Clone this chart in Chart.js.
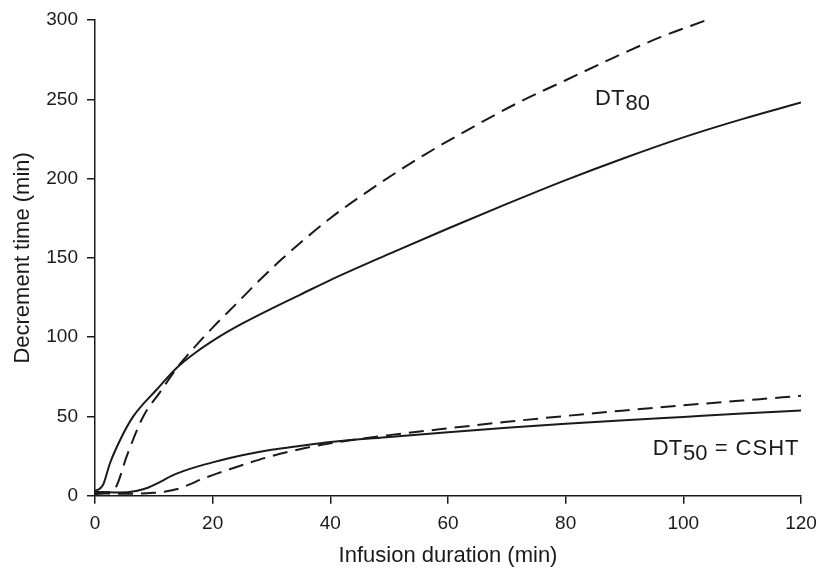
<!DOCTYPE html>
<html>
<head>
<meta charset="utf-8">
<script src="https://cdn.jsdelivr.net/npm/chart.js@4/dist/chart.umd.min.js"></script>
<style>
  body { margin: 0; background: #fff; }
  #wrap { width: 818px; height: 569px; }
</style>
</head>
<body>
<div id="wrap"><canvas id="chart" width="818" height="569"></canvas></div>
<script>
// values
const dt80SolidX = [0, 1, 1.5, 2.5, 4.25, 6.5, 10.5, 14, 17, 21, 25, 30, 35, 40, 50, 60, 70, 80, 90, 100, 110, 120];
const dt80SolidY = [3, 5, 8, 20, 35, 50, 67, 81, 90, 100, 108.5, 118, 127, 136, 152.5, 168.5, 184, 199, 213, 226, 237.5, 248];

const dt80DashX = [0, 2, 3.5, 5.4, 8.2, 11, 14, 17, 20, 24, 28, 32, 40, 48, 56, 64, 72, 80, 88, 96, 104];
const dt80DashY = [1, 2, 5, 25, 50, 65, 81, 94, 106, 121, 136, 150, 175, 196, 215, 232, 248, 262, 276, 289, 300];

const dt50SolidX = [0, 4, 7, 9, 11, 13, 15, 17.5, 20, 25, 30, 35, 40, 50, 60, 70, 80, 90, 100, 110, 120];
const dt50SolidY = [2.5, 2, 3, 5, 8.5, 12.5, 15.5, 18.5, 21, 25.5, 29, 31.5, 33.8, 37, 40, 42.8, 45.3, 47.6, 49.7, 51.8, 53.8];

const dt50DashX = [0, 6, 10, 12, 14, 16, 18, 20, 23, 26, 30, 35, 40, 45, 50, 60, 70, 80, 90, 100, 110, 120];
const dt50DashY = [1.5, 1.2, 1.8, 2.6, 4.2, 7, 10.2, 13, 16.8, 20.5, 25, 29.5, 33, 35.8, 38.2, 42.5, 46.6, 50.3, 53.8, 57, 60, 63];

const xTicks = [0, 20, 40, 60, 80, 100, 120];
const yTicks = [0, 50, 100, 150, 200, 250, 300];

const toPoints = (xs, ys) => xs.map((x, i) => ({ x: x, y: ys[i] }));

const ink = '#1a1a1a';
const font = 'Liberation Sans, Arial, Helvetica, sans-serif';

function series(label, xs, ys, dashed) {
    return {
        label: label,
        data: toPoints(xs, ys),
        borderColor: ink,
        borderWidth: 2,
        borderDash: dashed ? [15, 8] : [],
        pointRadius: 0,
        fill: false,
        cubicInterpolationMode: 'monotone'
    };
}

// subscript labels drawn at data positions
const curveLabels = [
    { x: 85, y: 246.5, parts: ['DT', '80', ''] },
    { x: 94.8, y: 25.6, parts: ['DT', '50', ' = CSHT'] }
];

const labelPlugin = {
    id: 'curveLabels',
    afterDatasetsDraw(chart) {
        const ctx = chart.ctx;
        const xs = chart.scales.x, ys = chart.scales.y;
        ctx.save();
        ctx.fillStyle = ink;
        ctx.font = '22px ' + font;
        ctx.textBaseline = 'alphabetic';
        ctx.textAlign = 'left';
        curveLabels.forEach(l => {
            let px = xs.getPixelForValue(l.x);
            const py = ys.getPixelForValue(l.y);
            ctx.fillText(l.parts[0], px, py);
            px += ctx.measureText(l.parts[0]).width + 1;
            ctx.fillText(l.parts[1], px, py + 5);
            px += ctx.measureText(l.parts[1]).width;
            if (l.parts[2]) {
                // the original lettering is a touch wider here
                ctx.letterSpacing = '1px';
                ctx.fillText(l.parts[2], px, py);
                ctx.letterSpacing = '0px';
            }
        });
        ctx.restore();
    }
};

new Chart(document.getElementById('chart').getContext('2d'), {
    type: 'line',
    data: {
        datasets: [
            series('DT80 solid', dt80SolidX, dt80SolidY, false),
            series('DT80 dashed', dt80DashX, dt80DashY, true),
            series('DT50 solid', dt50SolidX, dt50SolidY, false),
            series('DT50 dashed', dt50DashX, dt50DashY, true)
        ]
    },
    options: {
        responsive: false,
        animation: false,
        layout: { padding: { top: 20, right: 17, left: 0, bottom: 0 } },
        plugins: {
            legend: { display: false },
            tooltip: { enabled: false }
        },
        scales: {
            x: {
                type: 'linear',
                min: 0,
                max: 120,
                afterBuildTicks: s => { s.ticks = xTicks.map(v => ({ value: v })); },
                afterFit: s => { s.height = 73.3; s.paddingLeft = 0; s.paddingRight = 0; },
                grid: { drawOnChartArea: false, drawTicks: true, tickLength: 8, color: ink, lineWidth: 1.5 },
                border: { display: true, color: ink, width: 1.5 },
                ticks: { color: ink, padding: 9, font: { family: font, size: 19 }, maxRotation: 0 },
                title: {
                    display: true,
                    text: 'Infusion duration (min)',
                    color: ink,
                    font: { family: font, size: 22 },
                    padding: { top: 0, bottom: 0 }
                }
            },
            y: {
                type: 'linear',
                min: 0,
                max: 300,
                afterBuildTicks: s => { s.ticks = yTicks.map(v => ({ value: v })); },
                afterFit: s => { s.width = 95; s.paddingTop = 0; s.paddingBottom = 0; },
                grid: { drawOnChartArea: false, drawTicks: true, tickLength: 8, color: ink, lineWidth: 1.5 },
                border: { display: true, color: ink, width: 1.5 },
                ticks: { color: ink, padding: 9, font: { family: font, size: 19 } },
                title: {
                    display: true,
                    text: 'Decrement time (min)',
                    color: ink,
                    font: { family: font, size: 22 },
                    padding: { top: 9.5, bottom: 0 }
                }
            }
        }
    },
    plugins: [labelPlugin]
});
</script>
</body>
</html>
